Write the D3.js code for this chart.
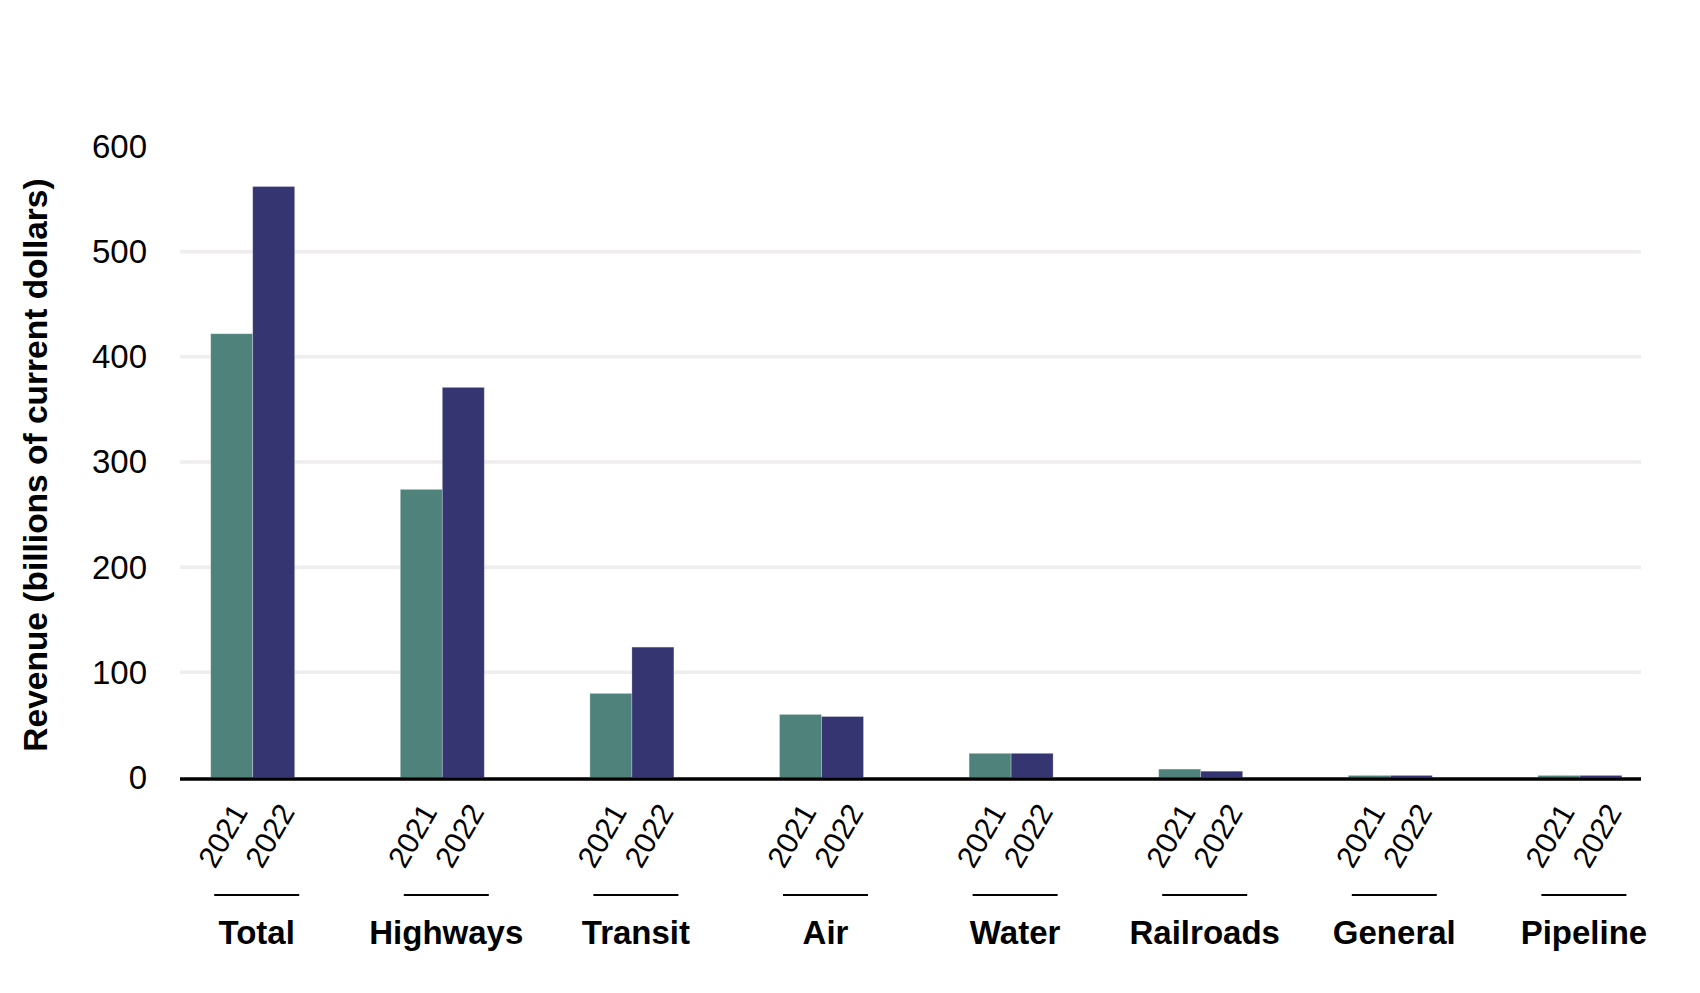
<!doctype html>
<html lang="en">
<head>
  <meta charset="utf-8">
  <script src="https://d3js.org/d3.v7.min.js"></script>
  <style>
    body { margin: 0; background: #fff; }
    text { font-family: "Liberation Sans", Arial, sans-serif; fill: #000; }
  </style>
</head>
<body>
  <script>
    // data
    var categories = ["Total", "Highways", "Transit", "Air", "Water", "Railroads", "General", "Pipeline"];
    var years = ["2021", "2022"];
    var values2021 = [422, 274, 80, 60, 23, 8, 2, 2];
    var values2022 = [562, 371, 124, 58, 23, 6, 2, 2];
    var yTicks = [0, 100, 200, 300, 400, 500, 600];
    var gridTicks = [100, 200, 300, 400, 500];
    var colors = ["#4e827b", "#353571"];

    var width = 1700,
        height = 993;

    var svg = d3.select("body")
                .append("svg")
                .attr("width", width)
                .attr("height", height);

    svg.append("rect")
        .attr("width", width)
        .attr("height", height)
        .attr("fill", "#fff");

    // scales
    var y = d3.scaleLinear()
              .domain([0, 500])
              .range([777.5, 251.7]);

    var x = d3.scaleBand()
              .domain(categories)
              .range([157.9, 1674.7])
              .padding(0);

    var xYear = d3.scaleBand()
                  .domain(years)
                  .range([0, 84]);

    // the rotated year labels sit a bit wider apart than the bars
    var xYearLabel = d3.scalePoint()
                       .domain(years)
                       .range([42 - 30, 42 + 17]);

    var plotLeft = 180,
        plotRight = 1641;

    function center(c) { return x(c) + x.bandwidth() / 2; }

    // gridlines
    svg.append("g")
       .selectAll("line")
       .data(gridTicks)
       .enter().append("line")
         .attr("x1", plotLeft)
         .attr("x2", plotRight)
         .attr("y1", function(d) { return y(d); })
         .attr("y2", function(d) { return y(d); })
         .style("stroke", "#efeded")
         .style("stroke-width", 3.5);

    // y axis labels
    var yAxis = d3.axisLeft(y)
                  .tickValues(yTicks)
                  .tickSize(0)
                  .tickPadding(33);

    var gy = svg.append("g")
                .attr("transform", "translate(" + plotLeft + ",0)")
                .call(yAxis);
    gy.select(".domain").remove();
    gy.selectAll("text")
      .attr("dy", "0.33em")
      .style("font-family", '"Liberation Sans", Arial, sans-serif')
      .style("font-size", "33px")
      .style("fill", "#000");

    // bars
    var rows = categories.map(function(c, i) {
      return { cat: c, vals: [values2021[i], values2022[i]] };
    });

    var groups = svg.append("g")
                    .selectAll("g")
                    .data(rows)
                    .enter().append("g")
                    .attr("transform", function(d) { return "translate(" + (center(d.cat) - 42) + ",0)"; });

    groups.selectAll("rect")
          .data(function(d) { return d.vals.map(function(v, j) { return { year: years[j], v: v, j: j }; }); })
          .enter().append("rect")
            .attr("x", function(d) { return xYear(d.year); })
            .attr("width", xYear.bandwidth())
            .attr("y", function(d) { return y(d.v); })
            .attr("height", function(d) { return y(0) - y(d.v); })
            .style("fill", function(d) { return colors[d.j]; })
            .style("stroke", "#ffffff")
            .style("stroke-opacity", 0.35)
            .style("stroke-width", 0.8);

    // zero line
    svg.append("line")
       .attr("x1", plotLeft)
       .attr("x2", plotRight)
       .attr("y1", y(0) + 1.5)
       .attr("y2", y(0) + 1.5)
       .style("stroke", "#000")
       .style("stroke-width", 3.5);

    // year labels
    groups.selectAll("text.year")
          .data(years)
          .enter().append("text")
            .attr("class", "year")
            .attr("transform", function(d) {
              return "translate(" + xYearLabel(d) + ",835.5) rotate(-60)";
            })
            .attr("text-anchor", "middle")
            .attr("dominant-baseline", "central")
            .style("font-size", "30px")
            .text(function(d) { return d; });

    // group underline
    groups.append("line")
          .attr("x1", 42 + 4 - 42.5)
          .attr("x2", 42 + 4 + 42.5)
          .attr("y1", 895)
          .attr("y2", 895)
          .style("stroke", "#000")
          .style("stroke-width", 2);

    // category labels
    groups.append("text")
          .attr("x", 42 + 4)
          .attr("y", 944)
          .attr("text-anchor", "middle")
          .style("font-size", "33px")
          .style("font-weight", "bold")
          .text(function(d) { return d.cat; });

    // y axis title
    svg.append("text")
       .attr("transform", "translate(35,465) rotate(-90)")
       .attr("text-anchor", "middle")
       .attr("dominant-baseline", "central")
       .style("font-size", "33.5px")
       .style("font-weight", "bold")
       .text("Revenue (billions of current dollars)");
  </script>
</body>
</html>
